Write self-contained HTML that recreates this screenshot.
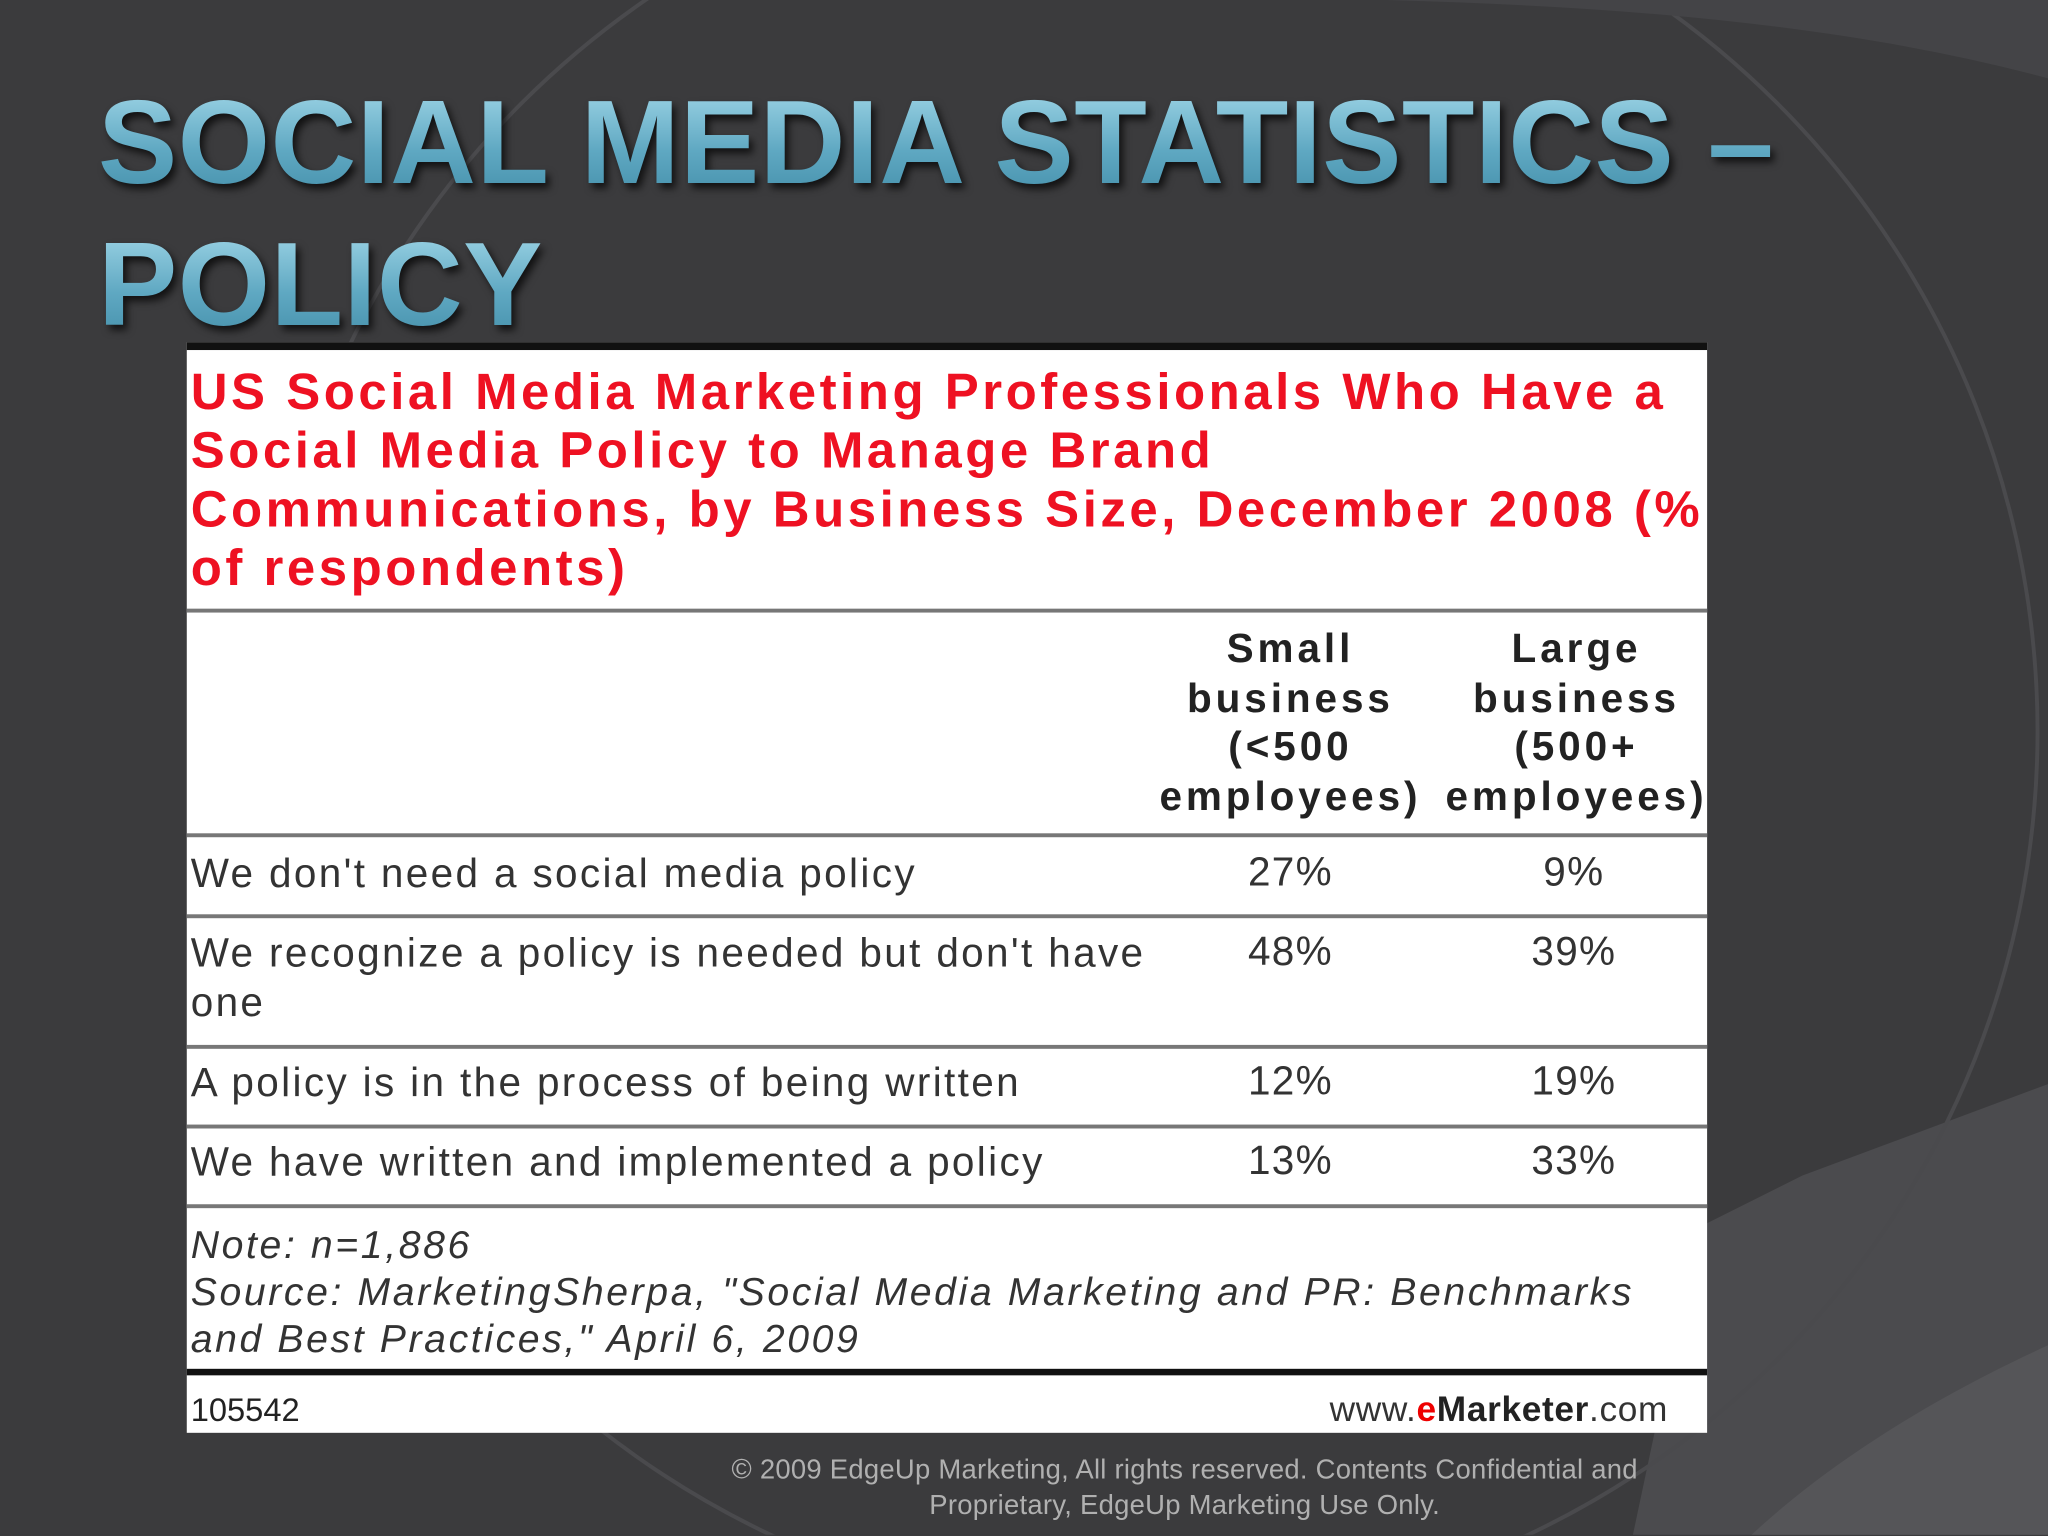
<!DOCTYPE html>
<html><head><meta charset="utf-8">
<style>
html,body{margin:0;padding:0;width:2048px;height:1536px;overflow:hidden;background:#3b3b3d;}
#stage{position:absolute;left:0;top:0;width:1568px;height:1175px;overflow:hidden;transform:scale(1.306122);transform-origin:0 0;font-family:"Liberation Sans",sans-serif;}
.t{position:absolute;white-space:nowrap;}
.title{font-weight:bold;font-size:91px;letter-spacing:0.3px;background:linear-gradient(#a8dcec,#5fa8c2 55%,#3f8aa5);-webkit-background-clip:text;background-clip:text;color:transparent;filter:drop-shadow(3px 4px 3px rgba(0,0,0,.7));}
.red{color:#ee1122;font-weight:bold;font-size:39px;letter-spacing:2.7px;}
.hd{font-weight:bold;font-size:31px;color:#222;text-align:center;width:260px;letter-spacing:3px;}
.cell{font-size:31px;color:#333;letter-spacing:1.8px;}
.num{font-size:31px;color:#333;text-align:center;width:200px;letter-spacing:1px;}
.hr{position:absolute;left:143px;width:1164px;background:#777;height:3px;}
.note{font-size:30px;font-style:italic;color:#333;letter-spacing:2px;}
</style></head>
<body>
<div id="stage">
<svg width="1568" height="1176" style="position:absolute;left:0;top:0">
<rect width="1568" height="1176" fill="#3b3b3d"/>
<path d="M1568 830 L1380 900 L1300 940 L1250 1176 L1568 1176 Z" fill="#4b4b4e"/>
<path d="M1568 1030 C1480 1070 1400 1120 1340 1176 L1568 1176Z" fill="#555558"/>
<circle cx="880" cy="560" r="680" fill="none" stroke="#4a4a4d" stroke-width="3"/>
<path d="M1060 0 L1568 0 L1568 60 C1420 20 1250 5 1060 0Z" fill="#444447"/>
</svg>
<div class="t title" style="left:75px;top:58px;">SOCIAL MEDIA STATISTICS –</div>
<div class="t title" style="left:75px;top:167px;">POLICY</div>

<div style="position:absolute;left:143px;top:262px;width:1164px;height:835px;background:#fff;"></div>
<div style="position:absolute;left:143px;top:262px;width:1164px;height:6px;background:#111;"></div>
<div class="t red" style="left:146px;top:278px;line-height:45px;">US Social Media Marketing Professionals Who Have a<br>Social Media Policy to Manage Brand<br>Communications, by Business Size, December 2008 (%<br>of respondents)</div>
<div class="hr" style="top:466px;"></div>
<div class="t hd" style="left:858px;top:478px;line-height:37.5px;">Small<br>business<br>(&lt;500<br>employees)</div>
<div class="t hd" style="left:1077px;top:478px;line-height:37.5px;">Large<br>business<br>(500+<br>employees)</div>
<div class="hr" style="top:638px;"></div>
<div id="rows"></div>
<div class="t note" style="left:146px;top:936px;line-height:36px;">Note: n=1,886<br>Source: MarketingSherpa, "Social Media Marketing and PR: Benchmarks<br>and Best Practices," April 6, 2009</div>
<div style="position:absolute;left:143px;top:1048px;width:1164px;height:5px;background:#111;"></div>
<div class="t" style="left:146px;top:1066px;font-size:25px;color:#222;">105542</div>
<div class="t" style="left:1018px;top:1064px;font-size:27px;color:#333;letter-spacing:0.5px;">www.<b style="color:#e00">e</b><b style="color:#222">Marketer</b>.com</div>
<div class="t" style="left:547px;top:1112px;width:720px;font-size:21px;line-height:27px;color:#b0b0b0;text-align:center;letter-spacing:0.2px;">© 2009 EdgeUp Marketing, All rights reserved. Contents Confidential and<br>Proprietary, EdgeUp Marketing Use Only.</div>
</div>
<script>
const labels=["We don't need a social media policy","We recognize a policy is needed but don't have<br>one","A policy is in the process of being written","We have written and implemented a policy"];
const smallVals=[27,48,12,13];
const largeVals=[9,39,19,33];
const rowTops=[650,711,810,871];
const ruleTops=[700,800,861,922];
const rows=document.getElementById('rows');
for(let i=0;i<labels.length;i++){
  const l=document.createElement('div');l.className='t cell';l.style.left='146px';l.style.top=rowTops[i]+'px';l.style.lineHeight='38px';l.innerHTML=labels[i];
  
  
  rows.appendChild(l);
  const a=document.createElement('div');a.className='t num';a.style.left='888px';a.style.top=rowTops[i]+'px';a.textContent=smallVals[i]+'%';
  
  
  rows.appendChild(a);
  const b=document.createElement('div');b.className='t num';b.style.left='1105px';b.style.top=rowTops[i]+'px';b.textContent=largeVals[i]+'%';
  
  
  rows.appendChild(b);
  const r=document.createElement('div');r.className='hr';r.style.top=ruleTops[i]+'px';
  
  
  rows.appendChild(r);
}
</script>
</body></html>
